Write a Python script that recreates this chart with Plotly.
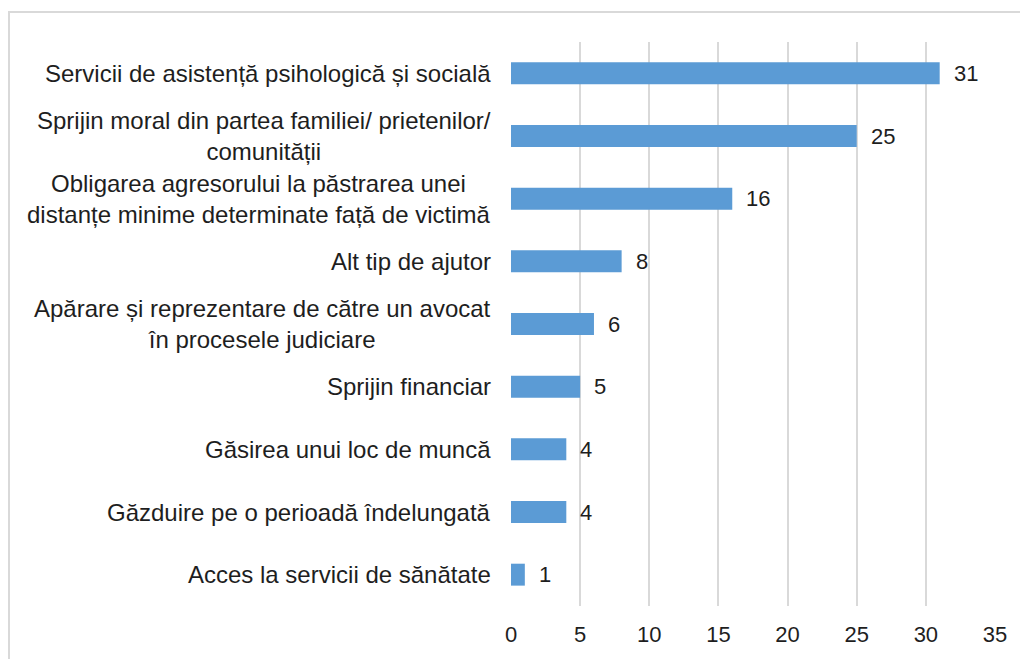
import plotly.graph_objects as go

categories = [
    "Servicii de asistență psihologică și socială",
    "Sprijin moral din partea familiei/ prietenilor/<br>comunității",
    "Obligarea agresorului la păstrarea unei<br>distanțe minime determinate față de victimă",
    "Alt tip de ajutor",
    "Apărare și reprezentare de către un avocat<br>în procesele judiciare",
    "Sprijin financiar",
    "Găsirea unui loc de muncă",
    "Găzduire pe o perioadă îndelungată",
    "Acces la servicii de sănătate",
]
values = [31, 25, 16, 8, 6, 5, 4, 4, 1]
tick_vals = [0, 5, 10, 15, 20, 25, 30, 35]

ids = list(range(len(categories)))
FONT = "Liberation Sans, Arial, sans-serif"
TXT = "#1e1e1e"
CAT_SIZE = 24
NUM_SIZE = 22
LABEL_SHIFT = -18

W, H = 1020, 651
L, T, PW, PH = 503, 34, 484, 566

fig = go.Figure(go.Bar(
    x=values, y=ids, orientation="h",
    marker=dict(color="#5b9bd5", line=dict(width=0)),
    width=0.35, hoverinfo="skip",
))

annotations = []
for i, (c, v) in enumerate(zip(categories, values)):
    annotations.append(dict(
        x=0, xref="paper", y=i, yref="y", text=c, showarrow=False,
        xanchor="right", yanchor="middle", align="center", xshift=LABEL_SHIFT,
        font=dict(family=FONT, size=CAT_SIZE, color=TXT),
    ))
    annotations.append(dict(
        x=v, xref="x", y=i, yref="y", text=str(v), showarrow=False,
        xanchor="left", yanchor="middle", xshift=12,
        font=dict(family=FONT, size=NUM_SIZE, color=TXT),
    ))

fig.update_layout(
    width=W, height=H,
    margin=dict(l=L, r=W - L - PW, t=T, b=H - T - PH),
    paper_bgcolor="white", plot_bgcolor="white",
    showlegend=False,
    annotations=annotations,
    font=dict(family=FONT, size=NUM_SIZE, color=TXT),
    xaxis=dict(
        range=[0, 35], tickvals=tick_vals, showgrid=True,
        gridcolor="#d9d9d9", gridwidth=1.5, zeroline=False,
        showline=False, ticks="outside", ticklen=9, tickcolor="rgba(0,0,0,0)",
        tickfont=dict(family=FONT, size=NUM_SIZE, color=TXT), fixedrange=True,
    ),
    yaxis=dict(
        tickvals=ids, showticklabels=False, autorange=False,
        range=[8.5, -0.5], showgrid=False, zeroline=False, fixedrange=True,
    ),
    shapes=[dict(
        type="rect", xref="paper", yref="paper",
        x0=(1 - L) / PW, x1=1.3, y0=-0.3, y1=(T + PH - 4) / PH,
        line=dict(color="#d9d9d9", width=2), layer="below",
    )],
)

fig.write_html("out.html")
